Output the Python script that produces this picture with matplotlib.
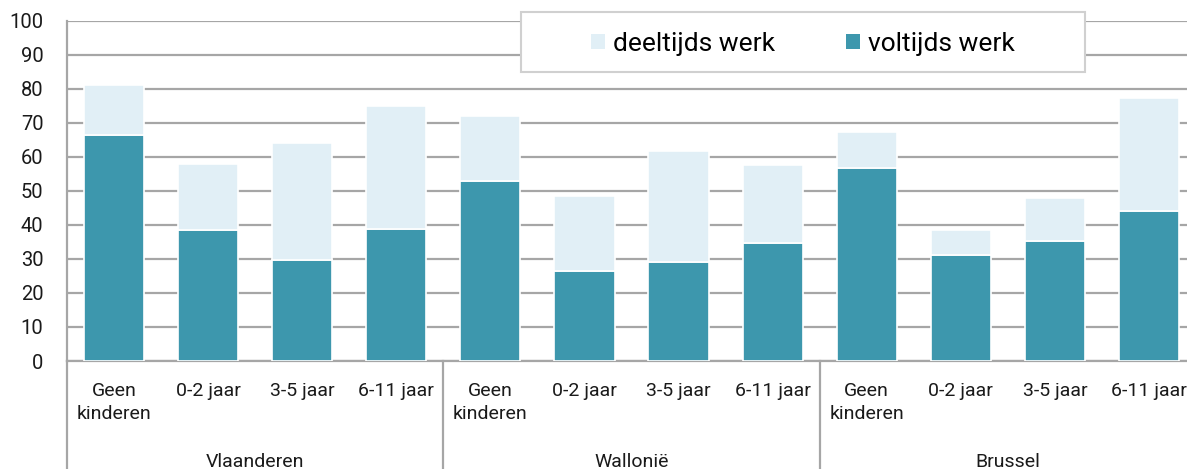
import matplotlib.pyplot as plt
import numpy as np
from matplotlib.patches import Patch, Rectangle

plt.rcParams['font.family'] = ['Roboto', 'DejaVu Sans']

# data (% employed)
regions = ['Vlaanderen', 'Wallonië', 'Brussel']
age_groups = ['Geen\nkinderen', '0-2 jaar', '3-5 jaar', '6-11 jaar']
voltijds = [66.6, 38.6, 29.6, 38.9,
            53.0, 26.4, 29.1, 34.7,
            56.9, 31.3, 35.2, 44.1]
totaal = [81.2, 57.9, 64.2, 75.0,
          72.0, 48.5, 61.7, 57.6,
          67.4, 38.6, 48.0, 77.4]
deeltijds = [t - v for t, v in zip(totaal, voltijds)]

col_full = '#3d97ad'
col_part = '#e1eff6'
grid_col = '#a6a6a6'

W, H = 1187, 469
fig = plt.figure(figsize=(W / 100, H / 100), dpi=100)
ax = fig.add_axes([67 / W, 108 / H, (1196 - 67) / W, 340 / H])

x = np.arange(len(voltijds))
ax.bar(x, voltijds, width=0.64, color=col_full, edgecolor='white', linewidth=1.2, zorder=3)
ax.bar(x, deeltijds, bottom=voltijds, width=0.64, color=col_part, edgecolor='white',
       linewidth=1.2, zorder=3)

ax.set_ylim(0, 100)
ax.set_xlim(-0.5, len(x) - 0.5)
ax.set_yticks(np.arange(0, 101, 10))
ax.yaxis.grid(True, color=grid_col, linewidth=1.6, zorder=0)
ax.set_axisbelow(True)
for s in ['top', 'right']:
    ax.spines[s].set_visible(False)
for s in ['left', 'bottom']:
    ax.spines[s].set_color(grid_col)
    ax.spines[s].set_linewidth(1.6)

ax.set_xticks(x)
ax.set_xticklabels(age_groups * len(regions), fontsize=14, linespacing=1.35, color='#1a1a1a')
ax.tick_params(axis='x', length=0, pad=15)
ax.tick_params(axis='y', length=0, pad=17, labelsize=14.5, labelcolor='#1a1a1a')

# group separators and region labels below the axis
tr = ax.get_xaxis_transform()
n = len(age_groups)
for i, reg in enumerate(regions):
    left = i * n - 0.5
    ax.plot([left, left], [0, -0.32], color=grid_col, linewidth=1.6,
            transform=tr, clip_on=False)
    ax.text(left + n / 2, -0.297, reg, transform=tr, ha='center', va='center',
            fontsize=14, color='#1a1a1a')

# legend box
fig.patches.append(Rectangle((521 / W, 1 - 72 / H), 564 / W, 60 / H, transform=fig.transFigure,
                             facecolor='white', edgecolor='#d0d0d0', linewidth=1.5, zorder=4))
handles = [Patch(facecolor=col_part), Patch(facecolor=col_full)]
fig.legend(handles, ['deeltijds werk', 'voltijds werk'], ncol=2, frameon=False,
           loc='center', bbox_to_anchor=(803 / W, 1 - 44 / H), fontsize=19,
           handlelength=0.53, handleheight=0.53, handletextpad=0.3, columnspacing=2.7)

fig.savefig('out.png', dpi=100)
